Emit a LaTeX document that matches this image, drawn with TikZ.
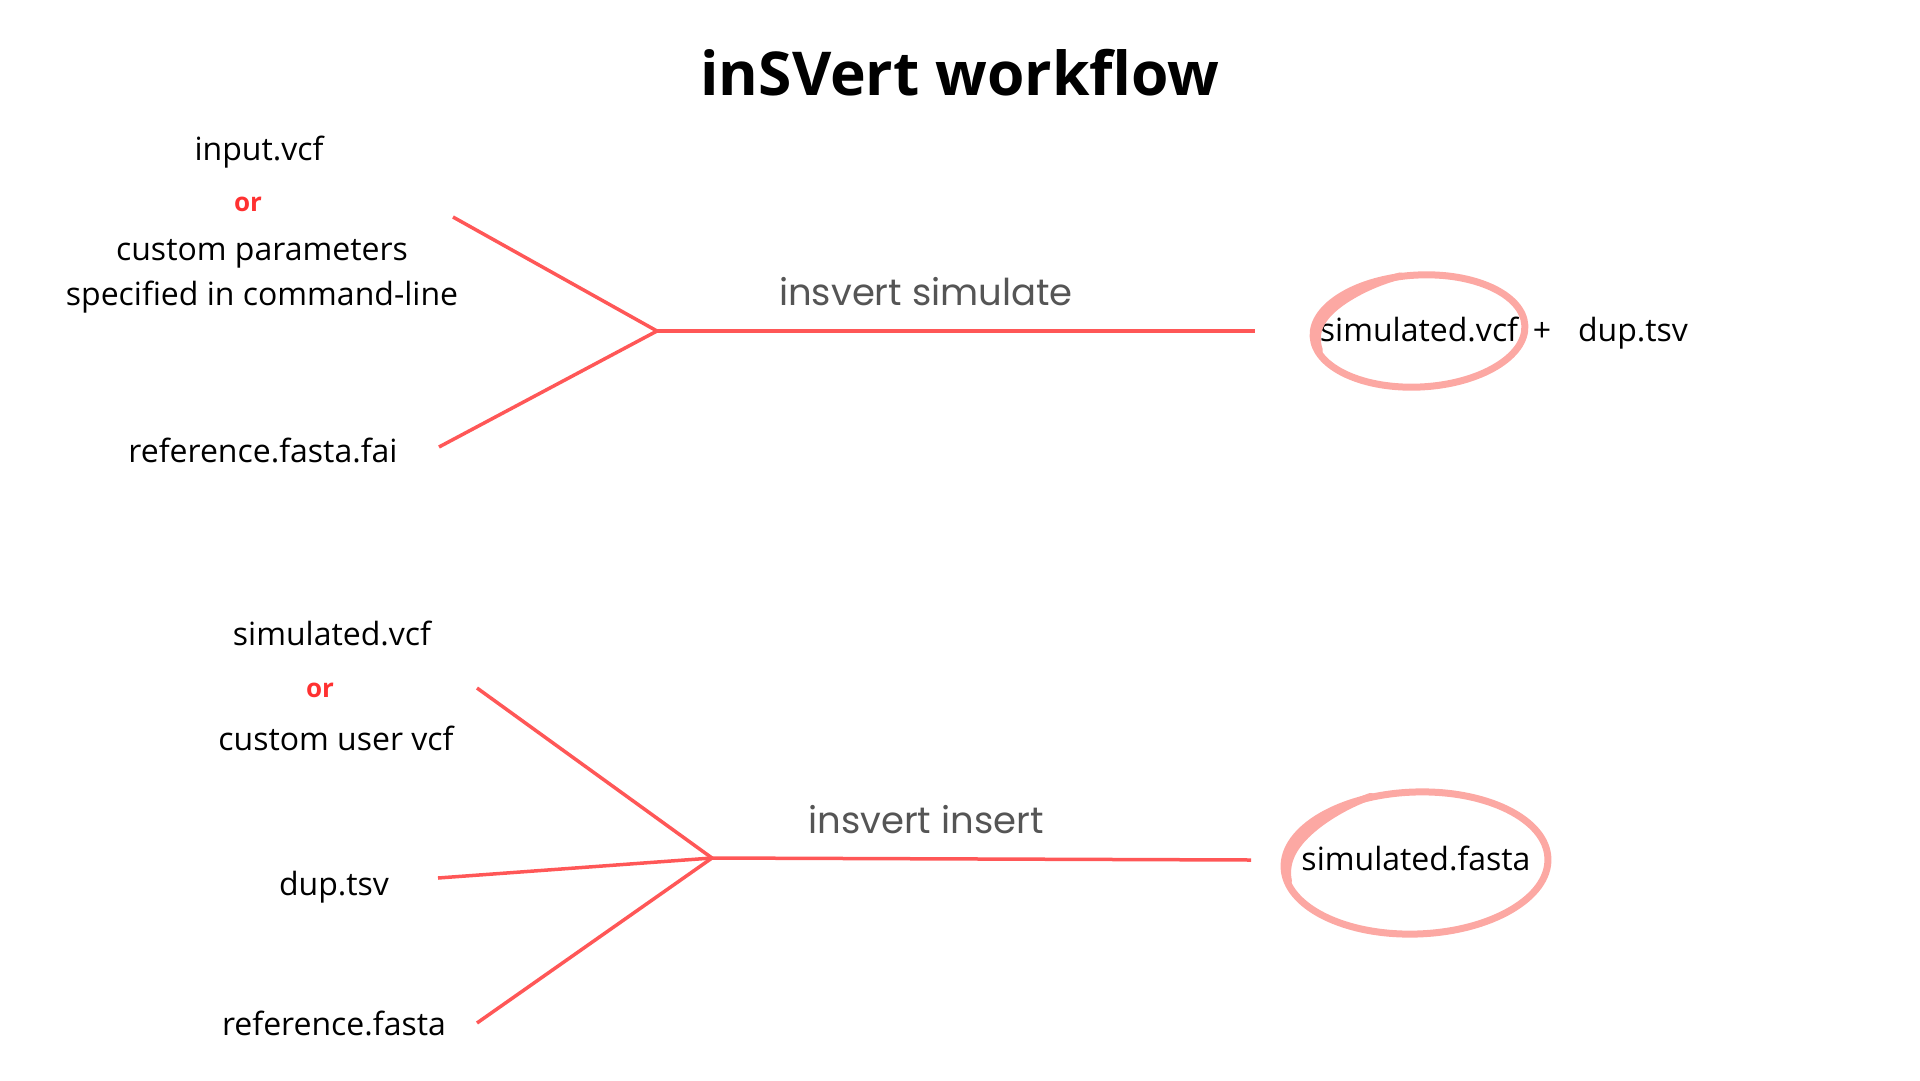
\documentclass[tikz,border=0pt]{standalone}
\usepackage{fontspec}
\setmainfont{Open Sans}
\newfontfamily\cmdfont{Poppins}
\definecolor{wirered}{RGB}{255,87,87}
\definecolor{orred}{RGB}{255,49,49}
\definecolor{loopPink}{RGB}{252,168,163}
\definecolor{cmdgray}{RGB}{85,85,85}
\begin{document}
\begin{tikzpicture}[x=1pt,y=-1pt,
  txt/.style={anchor=base, inner sep=0pt, font=\fontsize{32}{38}\selectfont},
  ortxt/.style={anchor=base, inner sep=0pt, font=\fontsize{26}{31}\selectfont\bfseries, text=orred},
  titletxt/.style={anchor=base, inner sep=0pt, font=\fontsize{60.5}{68}\selectfont\bfseries},
  cmd/.style={anchor=base, inner sep=0pt, font=\cmdfont\fontsize{37}{42}\selectfont, text=cmdgray},
  wire/.style={draw=wirered, line width=3.5pt},
  loopstroke/.style={draw=loopPink, line width=7pt, line cap=round}]
\useasboundingbox (0,0) rectangle (1920,1080);

% title
\node[titletxt] (title) at (960,95) {inSVert workflow};

% ---- top block ----
\node[txt] (inputvcf) at (259,160) {input.vcf};
\node[ortxt] (or1) at (248,211) {or};
\node[txt] (custom1) at (262,260) {custom parameters};
\node[txt] (custom2) at (262,305) {specified in command-line};
\node[txt] (reffai) at (263,462) {reference.fasta.fai};

\coordinate (inA1) at (453,217);
\coordinate (inA2) at (439,447);
\coordinate (hubA) at (657,331);
\coordinate (endA) at (1255,331);
\draw[wire] (inA1) -- (hubA) -- (inA2);
\draw[wire] (hubA) -- (endA);
\node[cmd] (simcmd) at (926,305) {insvert simulate};

\node[txt] (simvcf) at (1419,341) {simulated.vcf};
\node[txt] (plus) at (1542,341) {+};
\node[txt] (duptop) at (1633,341) {dup.tsv};

\draw[loopstroke, rotate around={3:(1419,331)}] (1419,331) ellipse [x radius=106pt, y radius=56pt];
\draw[loopstroke] plot[domain=100:200, samples=40, smooth]
  ({1419 + (106 - 9*sin((\x-100)*1.8))*cos(\x)}, {331 - (56 - 9*sin((\x-100)*1.8))*sin(\x)});

% ---- bottom block ----
\node[txt] (simvcf2) at (332,645) {simulated.vcf};
\node[ortxt] (or2) at (320,697) {or};
\node[txt] (customvcf) at (336,750) {custom user vcf};
\node[txt] (dupbot) at (334,895) {dup.tsv};
\node[txt] (reffa) at (334,1035) {reference.fasta};

\coordinate (inB1) at (477,688);
\coordinate (inB2) at (438,878);
\coordinate (inB3) at (477,1023);
\coordinate (hubB) at (712,858);
\coordinate (endB) at (1251,860);
\draw[wire] (inB1) -- (hubB) -- (inB3);
\draw[wire] (inB2) -- (hubB);
\draw[wire] (hubB) -- (endB);
\node[cmd] (inscmd) at (926,833) {insvert insert};

\node[txt] (simfa) at (1416,870) {simulated.fasta};
\draw[loopstroke, rotate around={2:(1416,863)}] (1416,863) ellipse [x radius=132pt, y radius=71pt];
\draw[loopstroke] plot[domain=110:195, samples=40, smooth]
  ({1416 + (132 - 9*sin((\x-110)*180/85))*cos(\x)}, {863 - (71 - 9*sin((\x-110)*180/85))*sin(\x)});
\end{tikzpicture}
\end{document}
